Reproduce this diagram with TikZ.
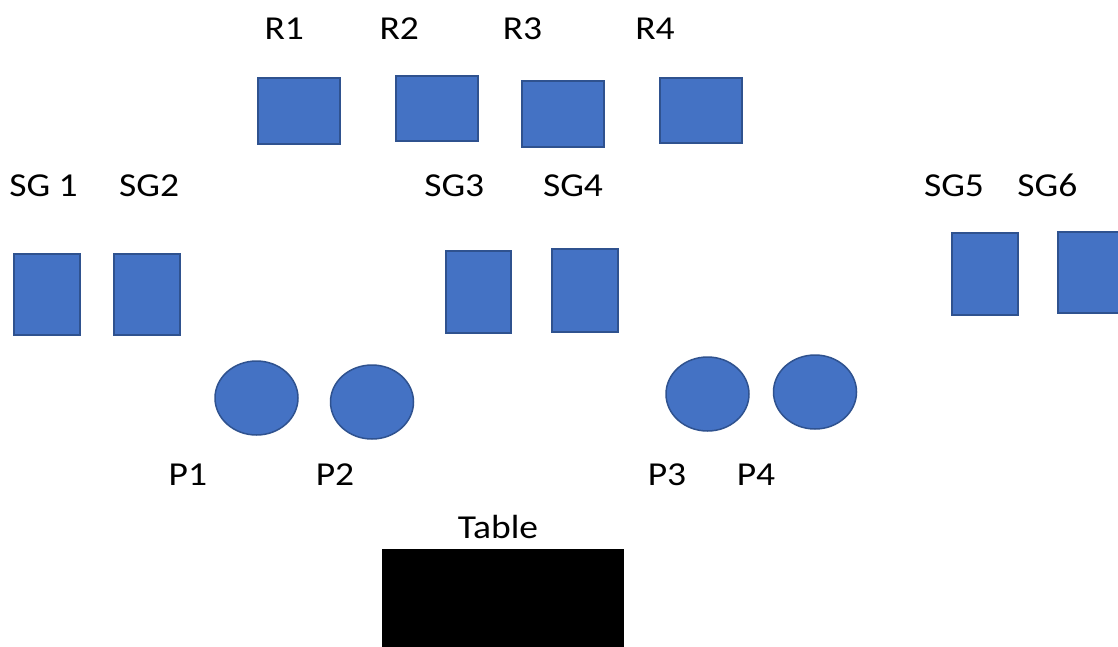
\documentclass[tikz,border=0pt]{standalone}
\usepackage{fontspec}
\setmainfont{Carlito}
\usetikzlibrary{shapes.geometric}
\definecolor{boxblue}{HTML}{4472C4}
\definecolor{boxedge}{HTML}{2F528F}
\tikzset{
  seat/.style={draw=boxedge, fill=boxblue, line width=1.5pt, inner sep=0pt, rectangle},
  person/.style={draw=boxedge, fill=boxblue, line width=1.5pt, inner sep=0pt, ellipse, minimum width=83pt, minimum height=74pt},
  lbl/.style={anchor=base, inner sep=0pt, xscale=1.12, font=\fontsize{33.5}{40}\selectfont},
  tablebox/.style={fill=black, draw=none, inner sep=0pt, rectangle}
}
\begin{document}
\begin{tikzpicture}[x=1pt,y=-1pt]
\useasboundingbox (0,0) rectangle (1118,646);
\clip (0,0) rectangle (1118,646);
% R row
\node[lbl] (lr1) at (284.3,39.3) {R1};
\node[lbl] (lr2) at (399.2,39.3) {R2};
\node[lbl] (lr3) at (522.5,39.3) {R3};
\node[lbl] (lr4) at (655,39.3) {R4};
\node[seat, minimum width=82pt, minimum height=66pt] (r1) at (299,111) {};
\node[seat, minimum width=82pt, minimum height=65pt] (r2) at (437,108.5) {};
\node[seat, minimum width=82pt, minimum height=66pt] (r3) at (563,114) {};
\node[seat, minimum width=82pt, minimum height=65pt] (r4) at (701,110.5) {};
% SG row
\node[lbl] (lsg1) at (43.5,196.5) {SG 1};
\node[lbl] (lsg2) at (149.2,196.5) {SG2};
\node[lbl] (lsg3) at (454.3,196.5) {SG3};
\node[lbl] (lsg4) at (573,196.5) {SG4};
\node[lbl] (lsg5) at (954,196.5) {SG5};
\node[lbl] (lsg6) at (1047.3,196.5) {SG6};
\node[seat, minimum width=66pt, minimum height=81pt] (sg1) at (47,294.5) {};
\node[seat, minimum width=66pt, minimum height=81pt] (sg2) at (147,294.5) {};
\node[seat, minimum width=65pt, minimum height=82pt] (sg3) at (478.5,292) {};
\node[seat, minimum width=66pt, minimum height=83pt] (sg4) at (585,290.5) {};
\node[seat, minimum width=66pt, minimum height=82pt] (sg5) at (985,274) {};
\node[seat, minimum width=66pt, minimum height=81pt] (sg6) at (1091,272.5) {};
% P row
\node[person] (p1) at (256.5,398) {};
\node[person] (p2) at (372,402) {};
\node[person] (p3) at (707.5,394) {};
\node[person] (p4) at (815,392) {};
\node[lbl] (lp1) at (187.8,485) {P1};
\node[lbl] (lp2) at (335,485) {P2};
\node[lbl] (lp3) at (667,485) {P3};
\node[lbl] (lp4) at (756,485) {P4};
% Table
\node[lbl] (ltable) at (498,538.3) {Table};
\node[tablebox, minimum width=242pt, minimum height=102pt] (table) at (503,600) {};
\end{tikzpicture}
\end{document}
